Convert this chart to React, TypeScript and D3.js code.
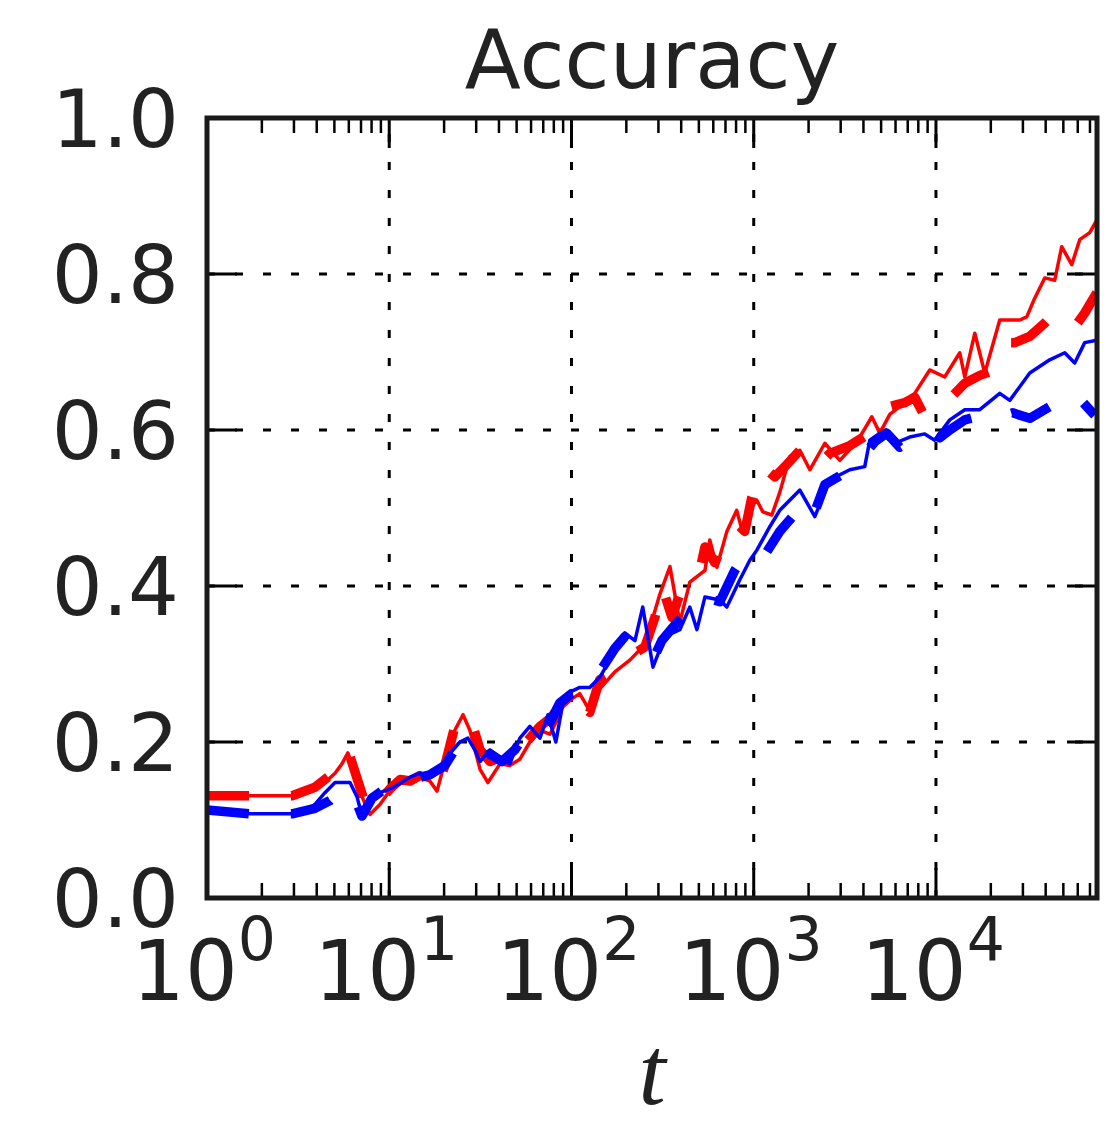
import React from "react";
import * as d3 from "d3";

// Accuracy over time t (log scale). Each series is a list of [t, accuracy].
const redSolid: [number, number][] = [
  [1, 0.131], [1.72, 0.131], [2.93, 0.131], [3.45, 0.134], [3.91, 0.14], [4.44, 0.148],
  [5.04, 0.16], [5.5, 0.172], [5.93, 0.186], [6.48, 0.16], [7.08, 0.13], [7.84, 0.107],
  [8.89, 0.12], [10.1, 0.138], [11.5, 0.151], [13.0, 0.148], [14.7, 0.155], [16.7, 0.15],
  [18.3, 0.137], [20.2, 0.175], [22.9, 0.215], [25.4, 0.235], [27.7, 0.215], [31.5, 0.165],
  [34.8, 0.148], [40.5, 0.172], [45.9, 0.17], [52.1, 0.178], [59.1, 0.2], [67.1, 0.215],
  [76.2, 0.21], [82.1, 0.225], [89.7, 0.245], [100, 0.255], [111, 0.262], [126, 0.24],
  [143, 0.268], [173, 0.29], [209, 0.305], [253, 0.325], [306, 0.39], [347, 0.425],
  [393, 0.353], [446, 0.405], [540, 0.42], [574, 0.459], [628, 0.424], [712, 0.47],
  [807, 0.497], [871, 0.468], [952, 0.5], [1040, 0.51], [1122, 0.495], [1257, 0.491],
  [1390, 0.52], [1578, 0.566], [1791, 0.574], [2032, 0.549], [2456, 0.583], [2967, 0.561],
  [3366, 0.575], [3820, 0.591], [4447, 0.617], [4918, 0.596], [5580, 0.62], [6328, 0.63],
  [7648, 0.647], [9245, 0.677], [11170, 0.668], [13510, 0.699], [14390, 0.668],
  [16330, 0.724], [18530, 0.673], [22390, 0.741], [28820, 0.741], [31480, 0.745],
  [34830, 0.769], [39520, 0.795], [44840, 0.792], [48990, 0.835], [55620, 0.812],
  [61490, 0.844], [69780, 0.853], [76240, 0.869],
];

const redDashed: [number, number][] = [
  [1, 0.131], [1.72, 0.131], [2.93, 0.131], [3.91, 0.142], [5.04, 0.162], [5.93, 0.19],
  [6.73, 0.15], [7.64, 0.11], [8.89, 0.125], [10.1, 0.14], [11.5, 0.152], [13.0, 0.15],
  [14.7, 0.157], [16.7, 0.148], [18.3, 0.138], [20.2, 0.17], [22.9, 0.22], [25.4, 0.237],
  [28.4, 0.225], [31.5, 0.19], [35.7, 0.175], [40.5, 0.18], [45.9, 0.175], [52.1, 0.19],
  [59.1, 0.205], [67.1, 0.22], [76.2, 0.23], [86.3, 0.245], [100, 0.258], [116, 0.245],
  [126, 0.238], [143, 0.28], [173, 0.29], [209, 0.31], [253, 0.322], [287, 0.36],
  [313, 0.4], [356, 0.36], [393, 0.39], [446, 0.41], [506, 0.42], [540, 0.45], [612, 0.43],
  [694, 0.46], [807, 0.48], [893, 0.47], [977, 0.514], [1122, 0.553], [1306, 0.54],
  [1483, 0.553], [1791, 0.574], [2164, 0.55], [2617, 0.57], [3366, 0.58], [4335, 0.596],
  [4918, 0.61], [5580, 0.63], [6743, 0.635], [7648, 0.642], [8676, 0.617], [10090, 0.626],
  [11910, 0.64], [14390, 0.66], [17390, 0.67], [21030, 0.677], [23850, 0.712],
  [27060, 0.712], [32710, 0.72], [39520, 0.737], [44840, 0.75], [50890, 0.741],
  [57730, 0.732], [65500, 0.75], [76240, 0.776],
];

const blueSolid: [number, number][] = [
  [1, 0.115], [1.34, 0.112], [1.72, 0.108], [2.93, 0.108], [3.45, 0.112], [3.91, 0.12],
  [4.44, 0.135], [5.04, 0.148], [6.09, 0.148], [6.65, 0.13], [7.08, 0.106], [8.04, 0.128],
  [8.89, 0.135], [10.1, 0.14], [11.5, 0.147], [13.0, 0.155], [14.7, 0.16], [16.7, 0.155],
  [19.0, 0.165], [21.5, 0.185], [24.4, 0.2], [27.0, 0.205], [29.5, 0.19], [31.5, 0.175],
  [35.7, 0.19], [40.5, 0.18], [45.9, 0.172], [52.1, 0.205], [59.1, 0.22], [67.1, 0.205],
  [74.3, 0.235], [82.1, 0.2], [89.7, 0.25], [100, 0.265], [111, 0.27], [126, 0.27],
  [143, 0.283], [162, 0.305], [196, 0.34], [223, 0.33], [246, 0.373], [280, 0.296],
  [325, 0.335], [393, 0.344], [446, 0.373], [488, 0.344], [540, 0.386], [652, 0.382],
  [712, 0.373], [839, 0.408], [952, 0.433], [1040, 0.446], [1225, 0.476], [1390, 0.497],
  [1791, 0.523], [2164, 0.489], [2617, 0.536], [3366, 0.549], [4067, 0.553], [4335, 0.587],
  [4918, 0.596], [5945, 0.583], [7180, 0.591], [8676, 0.595], [9846, 0.587], [11910, 0.613],
  [14390, 0.626], [17390, 0.626], [22390, 0.647], [25410, 0.638], [32710, 0.673],
  [42100, 0.69], [50890, 0.699], [57730, 0.686], [65500, 0.712], [76240, 0.715],
];

const blueDashed: [number, number][] = [
  [1, 0.113], [1.72, 0.108], [2.93, 0.108], [3.91, 0.115], [4.73, 0.125], [5.5, 0.14],
  [6.09, 0.135], [6.56, 0.125], [7.08, 0.105], [8.04, 0.128], [9.47, 0.14], [11.5, 0.148],
  [13.8, 0.153], [16.7, 0.158], [20.2, 0.17], [22.9, 0.19], [26.0, 0.195], [30.7, 0.178],
  [35.7, 0.185], [41.5, 0.175], [48.9, 0.19], [57.6, 0.215], [67.1, 0.21], [76.2, 0.225],
  [86.3, 0.25], [100, 0.262], [119, 0.265], [143, 0.29], [173, 0.32], [196, 0.335],
  [217, 0.32], [253, 0.31], [280, 0.305], [313, 0.33], [369, 0.35], [446, 0.37],
  [540, 0.385], [652, 0.38], [787, 0.42], [893, 0.44], [1014, 0.445], [1151, 0.44],
  [1390, 0.47], [1791, 0.5], [2086, 0.485], [2456, 0.53], [3162, 0.545], [3820, 0.561],
  [4617, 0.585], [5370, 0.596], [6328, 0.578], [7648, 0.59], [8906, 0.6], [10490, 0.59],
  [11910, 0.6], [14390, 0.613], [16740, 0.617], [19720, 0.622], [22390, 0.617],
  [26370, 0.622], [32710, 0.615], [42100, 0.63], [50890, 0.638], [55620, 0.647],
  [61490, 0.64], [74300, 0.619],
];

const yTicks = [0, 0.2, 0.4, 0.6, 0.8, 1.0];
const xMajor = [1, 10, 100, 1000, 10000];
const xExponents = ["0", "1", "2", "3", "4"];
const tMax = 76500;

const W = 1112;
const H = 1127;
const left = 207;
const right = 1097;
const top = 118;
const bottom = 898;

const textColor = "#222222";

export default function App() {
  const x = d3.scaleLog().domain([1, tMax]).range([left, right]);
  const y = d3.scaleLinear().domain([0, 1]).range([bottom, top]);

  const line = d3
    .line<[number, number]>()
    .x((d) => x(d[0]))
    .y((d) => y(d[1]));

  const minor: number[] = [];
  for (let e = 0; e < 5; e++) {
    for (let m = 2; m <= 9; m++) {
      const v = m * Math.pow(10, e);
      if (v < tMax) minor.push(v);
    }
  }

  const majorLen = 30;
  const minorLen = 15;

  return (
    <svg
      width={W}
      height={H}
      viewBox={`0 0 ${W} ${H}`}
      style={{ display: "block", position: "absolute", left: 0, top: 0, background: "#fff" }}
    >
      <defs>
        <clipPath id="plot-area">
          <rect x={left} y={top} width={right - left} height={bottom - top} />
        </clipPath>
      </defs>

      {/* dotted grid */}
      <g stroke="#000" strokeWidth={3} strokeDasharray="8 20" fill="none">
        {xMajor.slice(1).map((v) => (
          <line key={`gx${v}`} x1={x(v)} x2={x(v)} y1={bottom} y2={top} />
        ))}
        {yTicks.slice(1, -1).map((v) => (
          <line key={`gy${v}`} x1={left} x2={right} y1={y(v)} y2={y(v)} />
        ))}
      </g>

      {/* series */}
      <g clipPath="url(#plot-area)" fill="none" strokeLinejoin="round">
        <path d={line(redSolid) ?? ""} stroke="#ff0000" strokeWidth={3.5} />
        <path d={line(redDashed) ?? ""} stroke="#ff0000" strokeWidth={9.5} strokeDasharray="42 42" />
        <path d={line(blueSolid) ?? ""} stroke="#0000ff" strokeWidth={3.5} />
        <path d={line(blueDashed) ?? ""} stroke="#0000ff" strokeWidth={9.5} strokeDasharray="42 42" />
      </g>

      {/* ticks */}
      <g stroke="#000" fill="none">
        {xMajor.map((v) => (
          <g key={`tx${v}`} strokeWidth={3}>
            <line x1={x(v)} x2={x(v)} y1={bottom} y2={bottom - majorLen} />
            <line x1={x(v)} x2={x(v)} y1={top} y2={top + majorLen} />
          </g>
        ))}
        {minor.map((v) => (
          <g key={`mx${v}`} strokeWidth={2.5}>
            <line x1={x(v)} x2={x(v)} y1={bottom} y2={bottom - minorLen} />
            <line x1={x(v)} x2={x(v)} y1={top} y2={top + minorLen} />
          </g>
        ))}
        {yTicks.map((v) => (
          <g key={`ty${v}`} strokeWidth={3}>
            <line x1={left} x2={left + majorLen} y1={y(v)} y2={y(v)} />
            <line x1={right} x2={right - majorLen} y1={y(v)} y2={y(v)} />
          </g>
        ))}
      </g>

      {/* frame */}
      <rect
        x={left}
        y={top}
        width={right - left}
        height={bottom - top}
        fill="none"
        stroke="#1a1a1a"
        strokeWidth={5}
      />

      {/* y tick labels */}
      <g fontFamily="DejaVu Sans" fontSize={80} fill={textColor} textAnchor="end">
        {yTicks.map((v) => (
          <text key={`ly${v}`} x={left - 28} y={y(v)} dy="0.36em">
            {v.toFixed(1)}
          </text>
        ))}
      </g>

      {/* x tick labels */}
      <g fontFamily="DejaVu Sans" fill={textColor} textAnchor="middle">
        {xMajor.map((v, i) => (
          <text key={`lx${v}`} x={x(v) - 3} y={1000} fontSize={83}>
            <tspan>10</tspan>
            <tspan dy={-40} fontSize={60}>
              {xExponents[i]}
            </tspan>
          </text>
        ))}
      </g>

      {/* title */}
      <text
        x={(left + right) / 2}
        y={88}
        fontFamily="DejaVu Sans"
        fontSize={82}
        fill={textColor}
        textAnchor="middle"
      >
        Accuracy
      </text>

      {/* axis label */}
      <text
        x={(left + right) / 2}
        y={1104}
        fontFamily="Liberation Serif"
        fontStyle="italic"
        fontSize={98}
        fill={textColor}
        textAnchor="middle"
      >
        t
      </text>
    </svg>
  );
}
